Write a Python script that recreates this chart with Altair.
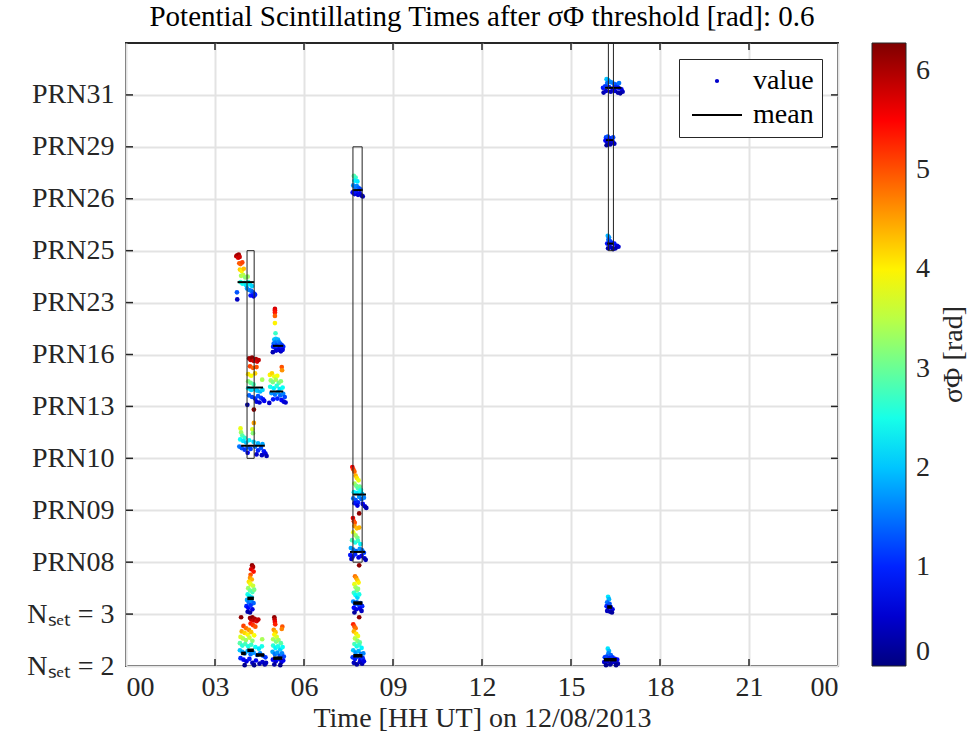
import json
import math
import altair as alt
import pandas as pd

# ---------------- data ----------------
ROWS = ["Nₛₑₜ = 2", "Nₛₑₜ = 3", "PRN08", "PRN09", "PRN10", "PRN13",
        "PRN16", "PRN23", "PRN25", "PRN26", "PRN29", "PRN31"]
HOUR_TICKS = [0, 3, 6, 9, 12, 15, 18, 21, 24]
SIGMA_TICKS = [0, 1, 2, 3, 4, 5, 6]
SIGMA_MAX = 2 * math.pi
ROW_SPAN = 6.6  # sigma units that lift a dot by one row height

# scattered samples (hour, sigma) for each row
PRN23_A = [(3.72, 5.9), (3.75, 6.0), (3.78, 5.7), (3.80, 6.1), (3.83, 5.8), (3.82, 5.0),
           (3.86, 4.9), (3.92, 5.1), (3.84, 4.2), (3.90, 4.0), (3.97, 4.3), (3.88, 3.4),
           (3.95, 3.5), (4.02, 3.2), (4.10, 3.3), (3.86, 2.6), (3.93, 2.4), (4.00, 2.5),
           (4.05, 2.2), (4.12, 2.6), (4.18, 2.3), (4.25, 2.1), (4.08, 1.8), (4.15, 1.6),
           (4.22, 1.5), (4.28, 1.3), (4.32, 1.1), (4.20, 0.9), (4.30, 0.8), (4.35, 1.0),
           (3.74, 1.3), (3.75, 0.4)]
PRN16_B = [(5.02, 5.8), (5.02, 5.6), (5.02, 5.35), (5.02, 4.9), (5.02, 4.0), (5.04, 2.7),
           (5.00, 1.9), (5.05, 2.0), (5.08, 1.8), (5.12, 1.9), (4.98, 1.4), (5.03, 1.5),
           (5.10, 1.3), (5.15, 1.6), (5.20, 1.4), (5.25, 1.2), (4.96, 1.0), (5.02, 0.9),
           (5.08, 1.1), (5.18, 0.8), (5.24, 0.9), (5.30, 1.0), (4.95, 0.3), (5.06, 0.5),
           (5.14, 0.6), (5.22, 0.4), (5.28, 0.6)]
PRN13_C = [(4.15, 6.1), (4.20, 5.9), (4.25, 6.2), (4.30, 5.8), (4.38, 6.0), (4.42, 5.7),
           (4.47, 5.9), (4.18, 5.1), (4.28, 4.9), (4.40, 5.0), (4.12, 4.1), (4.22, 3.9),
           (4.35, 4.2), (4.12, 3.2), (4.20, 3.0), (4.30, 2.8), (4.59, 3.4), (4.12, 2.3),
           (4.22, 2.1), (4.32, 2.2), (4.42, 2.0), (4.52, 1.9), (4.60, 2.1), (4.15, 1.4),
           (4.25, 1.2), (4.35, 1.0), (4.45, 1.3), (4.55, 1.1), (4.62, 0.9), (4.66, 0.7),
           (4.40, 0.6), (4.50, 0.5), (4.09, 0.2)]
PRN13_D = [(5.25, 5.0), (5.26, 4.6), (4.85, 4.0), (4.92, 4.2), (5.00, 3.8), (5.10, 3.9),
           (4.88, 3.3), (4.95, 3.1), (5.05, 3.4), (5.15, 3.0), (5.22, 3.2), (4.86, 2.5),
           (4.98, 2.3), (5.08, 2.6), (5.18, 2.2), (5.28, 2.4), (4.90, 1.7), (5.02, 1.5),
           (5.12, 1.8), (5.20, 1.4), (5.30, 1.6), (5.35, 1.2), (4.96, 0.9), (5.10, 1.0),
           (5.24, 0.8), (5.32, 0.6), (5.38, 0.5), (4.83, 0.45)]
PRN10_E = [(4.31, 6.2), (4.31, 4.5), (3.86, 3.8), (4.26, 3.7), (4.28, 3.2), (3.88, 3.3),
           (3.92, 2.9), (4.00, 2.6), (3.85, 2.4), (3.95, 2.2), (4.05, 2.0), (4.15, 2.3),
           (4.30, 2.1), (4.45, 1.9), (4.60, 1.8), (3.82, 1.5), (3.90, 1.3), (4.00, 1.1),
           (4.10, 1.4), (4.20, 1.2), (4.35, 1.5), (4.45, 1.0), (4.55, 1.3), (4.65, 0.9),
           (4.70, 0.6), (4.74, 0.3), (4.10, 0.7), (4.40, 0.5), (4.58, 0.4)]
PRN26_F = [(7.68, 2.9), (7.74, 2.7), (7.70, 2.3), (7.80, 2.2), (7.66, 1.7), (7.72, 1.5),
           (7.78, 1.6), (7.84, 1.4), (7.90, 1.2), (7.64, 0.8), (7.70, 0.6), (7.76, 0.9),
           (7.82, 0.5), (7.88, 0.7), (7.94, 0.4), (7.98, 0.3)]
PRN09_G = [(7.63, 5.5), (7.66, 5.2), (7.70, 4.9), (7.74, 4.4), (7.78, 4.1), (7.84, 3.8),
           (7.70, 3.4), (7.76, 3.1), (7.82, 2.8), (7.88, 3.0), (7.92, 2.6), (7.68, 2.3),
           (7.80, 2.2), (7.90, 2.4), (7.96, 2.1), (7.66, 1.5), (7.74, 1.3), (7.86, 1.7),
           (7.94, 1.4), (8.02, 1.6), (7.70, 0.9), (7.82, 1.0), (7.98, 0.8), (8.05, 0.5),
           (8.10, 0.3), (7.80, 0.6)]
PRN08_H = [(7.86, 6.2), (7.65, 5.6), (7.68, 5.2), (7.71, 5.0), (7.70, 4.6), (7.78, 4.3),
           (7.86, 4.4), (7.66, 3.8), (7.74, 3.4), (7.80, 3.1), (7.62, 2.8), (7.72, 2.5),
           (7.82, 2.7), (7.90, 2.3), (7.58, 1.8), (7.66, 1.6), (7.76, 1.4), (7.88, 1.7),
           (7.96, 1.5), (8.02, 1.2), (7.56, 0.9), (7.64, 0.7), (7.72, 1.0), (7.84, 0.6),
           (7.94, 0.8), (8.04, 0.5), (8.08, 0.3), (7.60, 0.4)]
NSET3_I = [(7.86, 6.2), (7.72, 4.8), (7.76, 4.6), (7.80, 4.3), (7.84, 4.0), (7.70, 3.8),
           (7.74, 3.4), (7.78, 3.0), (7.82, 3.2), (7.68, 2.7), (7.74, 2.4), (7.80, 2.1),
           (7.86, 2.5), (7.66, 1.6), (7.72, 1.3), (7.78, 1.5), (7.84, 1.2), (7.90, 1.4),
           (7.96, 1.0), (7.68, 0.8), (7.76, 0.6), (7.88, 0.7), (7.94, 0.4), (7.70, 0.2)]
NSET2_J = [(7.86, 6.2), (7.66, 5.3), (7.70, 5.0), (7.74, 4.8), (7.68, 4.4), (7.76, 4.1),
           (7.82, 3.8), (7.72, 3.5), (7.80, 3.2), (7.88, 3.0), (7.70, 2.8), (7.78, 2.5),
           (7.86, 2.7), (7.94, 2.3), (7.66, 2.0), (7.74, 1.7), (7.84, 1.9), (7.92, 1.5),
           (8.00, 1.6), (7.64, 1.1), (7.72, 0.9), (7.80, 1.2), (7.90, 0.8), (7.98, 1.0),
           (7.68, 0.4), (7.78, 0.2), (7.88, 0.5), (7.96, 0.3), (8.02, 0.6)]
NSET3_K = [(4.25, 6.2), (4.28, 6.0), (4.22, 5.7), (4.30, 5.4), (4.20, 5.0), (4.18, 4.6),
           (4.24, 4.4), (4.14, 4.1), (4.20, 3.8), (4.28, 3.6), (4.12, 3.3), (4.18, 3.0),
           (4.26, 2.8), (4.32, 3.1), (4.10, 2.5), (4.16, 2.3), (4.24, 2.1), (4.08, 1.8),
           (4.14, 1.5), (4.22, 1.7), (4.30, 1.4), (4.06, 1.0), (4.12, 0.8), (4.20, 1.1),
           (4.26, 0.6), (4.10, 0.3), (4.18, 0.2)]
NSET2_L = [(3.88, 6.2), (4.18, 6.1), (4.22, 5.9), (4.26, 6.2), (4.30, 5.8), (4.34, 6.0),
           (4.40, 5.7), (4.46, 5.9), (4.20, 5.4), (4.28, 5.2), (4.36, 5.0), (3.96, 5.1),
           (4.05, 4.8), (4.14, 4.6), (3.90, 4.4), (4.00, 4.2), (4.10, 4.0), (4.22, 4.3),
           (4.32, 3.9), (3.86, 3.7), (3.94, 3.5), (4.04, 3.3), (4.16, 3.6), (4.26, 3.2),
           (4.59, 3.4), (3.84, 2.9), (3.92, 2.6), (4.02, 2.8), (4.12, 2.5), (4.22, 2.7),
           (4.36, 2.4), (4.48, 2.2), (4.58, 2.5), (3.84, 2.0), (3.92, 1.8), (4.00, 1.6),
           (4.10, 1.9), (4.20, 1.5), (4.30, 1.7), (4.42, 1.4), (4.52, 1.6), (4.62, 1.3),
           (4.70, 1.1), (3.86, 1.0), (3.96, 0.8), (4.06, 0.6), (4.16, 0.9), (4.26, 0.4),
           (4.38, 0.7), (4.50, 0.3), (4.60, 0.5), (4.68, 0.2), (4.72, 0.4), (4.00, 0.1),
           (4.32, 0.1)]
NSET2_M = [(5.00, 6.2), (5.01, 5.9), (5.02, 5.6), (5.03, 5.3), (5.27, 5.0), (5.25, 4.7),
           (4.98, 4.6), (5.04, 4.3), (5.00, 4.0), (5.08, 3.7), (4.96, 3.4), (5.06, 3.1),
           (5.14, 3.3), (5.22, 2.9), (4.96, 2.6), (5.04, 2.3), (5.12, 2.5), (5.20, 2.1),
           (5.28, 2.4), (4.94, 1.8), (5.02, 1.5), (5.10, 1.7), (5.18, 1.3), (5.26, 1.6),
           (5.32, 1.2), (4.95, 0.8), (5.05, 0.6), (5.15, 0.9), (5.24, 0.5), (5.30, 0.7),
           (5.00, 0.2), (5.20, 0.1)]
PRN31_N = [(16.20, 2.0), (16.25, 1.9), (16.30, 1.7), (16.22, 1.5), (16.36, 1.6), (16.45, 1.4),
           (16.55, 1.3), (16.62, 1.5), (16.08, 0.9), (16.15, 1.1), (16.28, 1.0), (16.40, 0.8),
           (16.50, 1.0), (16.60, 0.9), (16.70, 0.7), (16.74, 0.4), (16.10, 0.3), (16.18, 0.5),
           (16.34, 0.4), (16.48, 0.5), (16.58, 0.3), (16.66, 0.2)]
PRN29_O = [(16.18, 1.2), (16.24, 1.3), (16.30, 1.1), (16.36, 1.0), (16.42, 1.2), (16.16, 0.8),
           (16.22, 0.6), (16.28, 0.9), (16.34, 0.5), (16.40, 0.7), (16.46, 0.4), (16.20, 0.2),
           (16.32, 0.3)]
PRN25_P = [(16.24, 1.9), (16.28, 1.7), (16.26, 1.4), (16.32, 1.2), (16.22, 0.9), (16.30, 0.8),
           (16.38, 1.0), (16.46, 0.9), (16.55, 0.6), (16.60, 0.5), (16.25, 0.3), (16.35, 0.4),
           (16.42, 0.2), (16.50, 0.3)]
NSET3_Q = [(16.25, 2.2), (16.28, 1.9), (16.22, 1.5), (16.30, 1.3), (16.20, 1.0), (16.26, 0.8),
           (16.34, 0.9), (16.40, 0.6), (16.22, 0.4), (16.32, 0.3), (16.38, 0.2)]
NSET2_R = [(16.24, 2.2), (16.28, 1.9), (16.26, 1.6), (16.34, 1.4), (16.14, 1.1), (16.20, 1.2),
           (16.30, 1.0), (16.40, 1.1), (16.48, 0.9), (16.56, 0.8), (16.12, 0.5), (16.22, 0.6),
           (16.36, 0.4), (16.46, 0.5), (16.58, 0.3), (16.18, 0.1), (16.32, 0.2), (16.52, 0.1)]

CLUSTERS = [(7, PRN23_A), (6, PRN16_B), (5, PRN13_C), (5, PRN13_D), (4, PRN10_E),
            (9, PRN26_F), (3, PRN09_G), (2, PRN08_H), (1, NSET3_I), (0, NSET2_J),
            (1, NSET3_K), (0, NSET2_L), (0, NSET2_M), (11, PRN31_N), (10, PRN29_O),
            (8, PRN25_P), (1, NSET3_Q), (0, NSET2_R)]

# mean segments: (row, start hour, end hour, mean sigma)
MEANS = [(7, 3.76, 4.32, 2.6), (6, 4.95, 5.30, 1.1), (5, 4.07, 4.62, 2.4),
         (5, 4.85, 5.30, 1.9), (4, 3.88, 4.68, 1.6), (9, 7.64, 7.98, 1.1),
         (3, 7.64, 8.09, 2.0), (2, 7.55, 8.06, 1.3), (1, 7.66, 7.97, 1.4),
         (0, 7.66, 7.97, 1.3), (1, 4.09, 4.31, 2.0), (0, 3.88, 4.04, 1.6),
         (0, 4.09, 4.31, 2.0), (0, 4.38, 4.66, 1.4), (0, 4.96, 5.27, 1.0),
         (11, 16.15, 16.70, 0.9), (10, 16.18, 16.42, 0.85), (8, 16.22, 16.45, 0.9),
         (1, 16.22, 16.38, 0.9), (0, 16.11, 16.54, 0.8)]

# common windows: (start hour, end hour, lowest row, highest row)
WINDOWS = [(4.08, 4.32, 4, 8), (7.65, 7.96, 2, 10), (16.26, 16.43, 8, 12)]

LEGEND_ITEMS = ["value", "mean"]

# ---------------- tables ----------------
pts = pd.DataFrame([{"x": t, "y": r + s / ROW_SPAN, "sigma": s}
                    for r, cl in CLUSTERS for t, s in cl])
means = pd.DataFrame([{"x": a, "x2": b, "y": r + m / ROW_SPAN, "row": r}
                      for r, a, b, m in MEANS])
wins = pd.DataFrame([{"x": a, "x2": b, "y": lo, "y2": hi} for a, b, lo, hi in WINDOWS])
xt = pd.DataFrame({"x": HOUR_TICKS[1:-1]})
yt = pd.DataFrame({"y": list(range(1, len(ROWS)))})
leg = pd.DataFrame({"x": [1.0, 1.0], "y": [11.5, 11.5], "leg": LEGEND_ITEMS})

FONT = "Liberation Serif"
FS = 28
W, H = 712, 623
DARK = "#262626"

x_label_expr = "datum.value == 24 ? '00' : (datum.value < 10 ? '0' + datum.value : '' + datum.value)"
y_label_expr = json.dumps(ROWS, ensure_ascii=False) + "[datum.value]"

xscale = alt.Scale(domain=[0, 24], nice=False, zero=False)
yscale = alt.Scale(domain=[0, 12], nice=False, zero=False)
X = alt.X("x:Q", scale=xscale, title="Time [HH UT] on 12/08/2013",
          axis=alt.Axis(values=HOUR_TICKS, labelExpr=x_label_expr))
Y = alt.Y("y:Q", scale=yscale, title=None,
          axis=alt.Axis(values=list(range(len(ROWS))), labelExpr=y_label_expr))

jet_stops = [0, 0.125, 0.375, 0.625, 0.875, 1.0]
jet_colors = ["#00007f", "#0000ff", "#00ffff", "#ffff00", "#ff0000", "#7f0000"]

points = alt.Chart(pts).mark_circle(size=22, opacity=1).encode(
    x=X, y=Y,
    color=alt.Color("sigma:Q",
                    scale=alt.Scale(domain=[f * SIGMA_MAX for f in jet_stops],
                                    range=jet_colors, interpolate="rgb"),
                    legend=alt.Legend(title=None, orient="right", offset=34, padding=0,
                                      direction="vertical", type="gradient",
                                      gradientLength=H, gradientThickness=34,
                                      gradientStrokeColor=DARK, gradientStrokeWidth=1,
                                      values=SIGMA_TICKS, format="d", labelFont=FONT,
                                      labelFontSize=FS, labelColor=DARK, labelOffset=10,
                                      labelBaseline="middle", labelOverlap=False)),
)

mean_rules = alt.Chart(means).mark_rule(color="black").encode(
    x=X, x2="x2:Q", y=Y,
    strokeWidth=alt.condition(alt.datum.row < 2, alt.value(3.5), alt.value(2)),
)

win_rects = alt.Chart(wins).mark_rect(fillOpacity=0, stroke="#222222", strokeWidth=1).encode(
    x=X, x2="x2:Q", y=Y, y2="y2:Q")

tick_style = dict(color=DARK, strokeWidth=1.5)
xt_bottom = alt.Chart(xt).mark_rule(**tick_style).encode(x=X, y=alt.value(H - 7), y2=alt.value(H))
xt_top = alt.Chart(xt).mark_rule(**tick_style).encode(x=X, y=alt.value(0), y2=alt.value(7))
yt_left = alt.Chart(yt).mark_rule(**tick_style).encode(y=Y, x=alt.value(0), x2=alt.value(7))
yt_right = alt.Chart(yt).mark_rule(**tick_style).encode(y=Y, x=alt.value(W - 7), x2=alt.value(W))

leg_dom = LEGEND_ITEMS
sym_legend = alt.Legend(title=None, orient="top-right", offset=16, padding=8,
                        strokeColor=DARK, fillColor="white", labelFont=FONT,
                        labelFontSize=FS, labelColor="black", labelOffset=22,
                        symbolOffset=16, rowPadding=6, symbolStrokeWidth=2,
                        symbolOpacity=1)
legend_layer = alt.Chart(leg).mark_point(filled=False, opacity=0).encode(
    x=X, y=Y,
    stroke=alt.Stroke("leg:N", scale=alt.Scale(domain=leg_dom, range=["#0000cc", "#000000"]),
                      legend=sym_legend),
    shape=alt.Shape("leg:N", scale=alt.Scale(domain=leg_dom, range=["circle", "M-2.5,0H2.5"]),
                    legend=sym_legend),
    size=alt.Size("leg:N", scale=alt.Scale(domain=leg_dom, range=[5, 400]),
                  legend=sym_legend),
)

cbar_title = alt.Chart(leg.head(1)).mark_text(
    text="σΦ [rad]", angle=270, font=FONT, fontSize=FS, color=DARK,
    align="center", baseline="middle").encode(x=alt.value(W + 116), y=alt.value(H / 2))

chart = alt.layer(points, mean_rules, win_rects, xt_bottom, xt_top, yt_left, yt_right,
                  legend_layer, cbar_title).properties(
    width=W, height=H,
    autosize=alt.AutoSizeParams(type="none"),
    padding={"left": 126, "top": 43, "right": 131, "bottom": 78},
    title=alt.TitleParams("Potential Scintillating Times after σΦ threshold [rad]: 0.6",
                          font=FONT, fontSize=29, fontWeight="normal", color="black",
                          anchor="middle", offset=10),
).configure_view(stroke=DARK, strokeWidth=2).configure_axis(
    labelFont=FONT, labelFontSize=FS, labelColor=DARK, titleFont=FONT, titleFontSize=FS,
    titleFontWeight="normal", titleColor=DARK, grid=True, gridColor="#e3e3e3", gridWidth=2,
    ticks=False, domain=False,
).configure_axisX(labelPadding=7, titlePadding=3).configure_axisY(labelPadding=12)

chart.save("out.html", embed_options={"renderer": "svg", "actions": False})
